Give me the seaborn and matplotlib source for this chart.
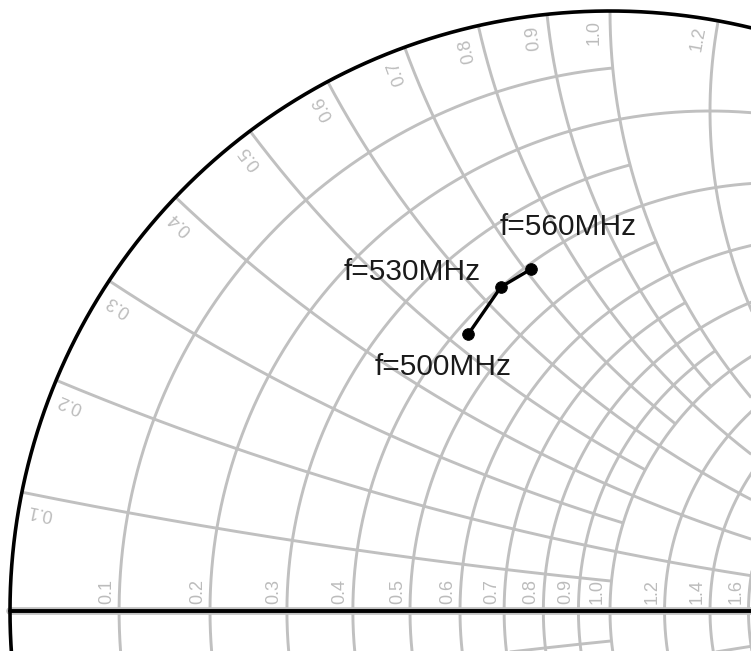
import numpy as np
import pandas as pd
import matplotlib
matplotlib.use("Agg")
import matplotlib.pyplot as plt
import seaborn as sns

# ---- data (normalized impedance) ----
freq_labels = ["f=500MHz", "f=530MHz", "f=560MHz"]
z_real = [0.42, 0.40, 0.41]
z_imag = [0.53, 0.64, 0.71]

# Smith grid values
grid_values = [0.1, 0.2, 0.3, 0.4, 0.5, 0.6, 0.7, 0.8, 0.9, 1.0,
               1.2, 1.4, 1.6, 1.8, 2.0, 3.0, 4.0, 5.0, 10.0, 20.0]
short_values = [0.1, 0.3, 0.5, 0.7, 0.9]      # these stop at the 1.0 line
r_label_values = [0.1, 0.2, 0.3, 0.4, 0.5, 0.6, 0.7, 0.8, 0.9, 1.0, 1.2, 1.4, 1.6]
x_label_values = [0.1, 0.2, 0.3, 0.4, 0.5, 0.6, 0.7, 0.8, 0.9, 1.0, 1.2]

GRID = "#c0c0c0"
LABEL = "#bcbcbc"

sns.set_theme(style="white")
plt.rcParams["font.family"] = ["Liberation Sans", "DejaVu Sans"]


def gamma(z):
    return (z - 1) / (z + 1)


def limit(v):
    return 1.0 if any(abs(v - s) < 1e-9 for s in short_values) else 1e4


fig = plt.figure(figsize=(7.51, 6.51), dpi=100)
ax = fig.add_axes([0, 0, 1, 1])
ax.axis("off")

# resistance circles
for v in grid_values:
    L = limit(v)
    t = np.linspace(-np.arctan(L), np.arctan(L), 1500)
    g = gamma(v + 1j * np.tan(t))
    ax.plot(g.real, g.imag, color=GRID, lw=2.1, zorder=1, solid_capstyle="butt")

# reactance arcs
for v in grid_values:
    L = limit(v)
    t = np.linspace(0, np.arctan(L), 1500)
    rr = np.tan(t)
    for s in (1, -1):
        g = gamma(rr + 1j * s * v)
        ax.plot(g.real, g.imag, color=GRID, lw=2.1, zorder=1, solid_capstyle="butt")

ax.plot([-1, 1], [0, 0], color=GRID, lw=5.5, zorder=1)

# outer circle and real axis
th = np.linspace(0, 2 * np.pi, 3000)
ax.plot(np.cos(th), np.sin(th), color="black", lw=2.6, zorder=3)
ax.plot([-1, 1], [0, 0], color="black", lw=2.8, zorder=3)

# resistance labels along the real axis
for v in r_label_values:
    gx = (v - 1) / (v + 1)
    ax.text(gx - 0.007, 0.011, f"{v:.1f}", rotation=90, ha="right", va="bottom",
            fontsize=13, color=LABEL, zorder=2)

# reactance labels along the rim
for v in x_label_values:
    theta = np.pi - 2 * np.arctan(v)
    tl = theta + 0.027
    px, py = 0.985 * np.cos(tl), 0.985 * np.sin(tl)
    ax.text(px, py, f"{v:.1f}", rotation=np.degrees(theta), rotation_mode="anchor",
            ha="right", va="center", fontsize=13, color=LABEL, zorder=2)

# data trace
z = np.array(z_real) + 1j * np.array(z_imag)
g = gamma(z)
df = pd.DataFrame({"gr": g.real, "gi": g.imag, "label": freq_labels})
sns.lineplot(data=df, x="gr", y="gi", sort=False, estimator=None, color="black",
             lw=2.4, ax=ax, zorder=5)
sns.scatterplot(data=df, x="gr", y="gi", marker="o", s=70, color="black",
                edgecolor="black", ax=ax, zorder=6, legend=False)

offsets = [(-18, -24), (-64, 11), (27, 30)]
for (x0, y0, lab), off in zip(zip(df.gr, df.gi, df.label), offsets):
    ax.annotate(lab, xy=(x0, y0), xytext=off, textcoords="offset points",
                ha="center", va="center", fontsize=21.5, color="#1a1a1a", zorder=7)

ax.set_xlim(-610 / 600, 141 / 600)
ax.set_ylim(-40 / 600, 611 / 600)
ax.axis("off")

fig.savefig("out.png", dpi=100)
